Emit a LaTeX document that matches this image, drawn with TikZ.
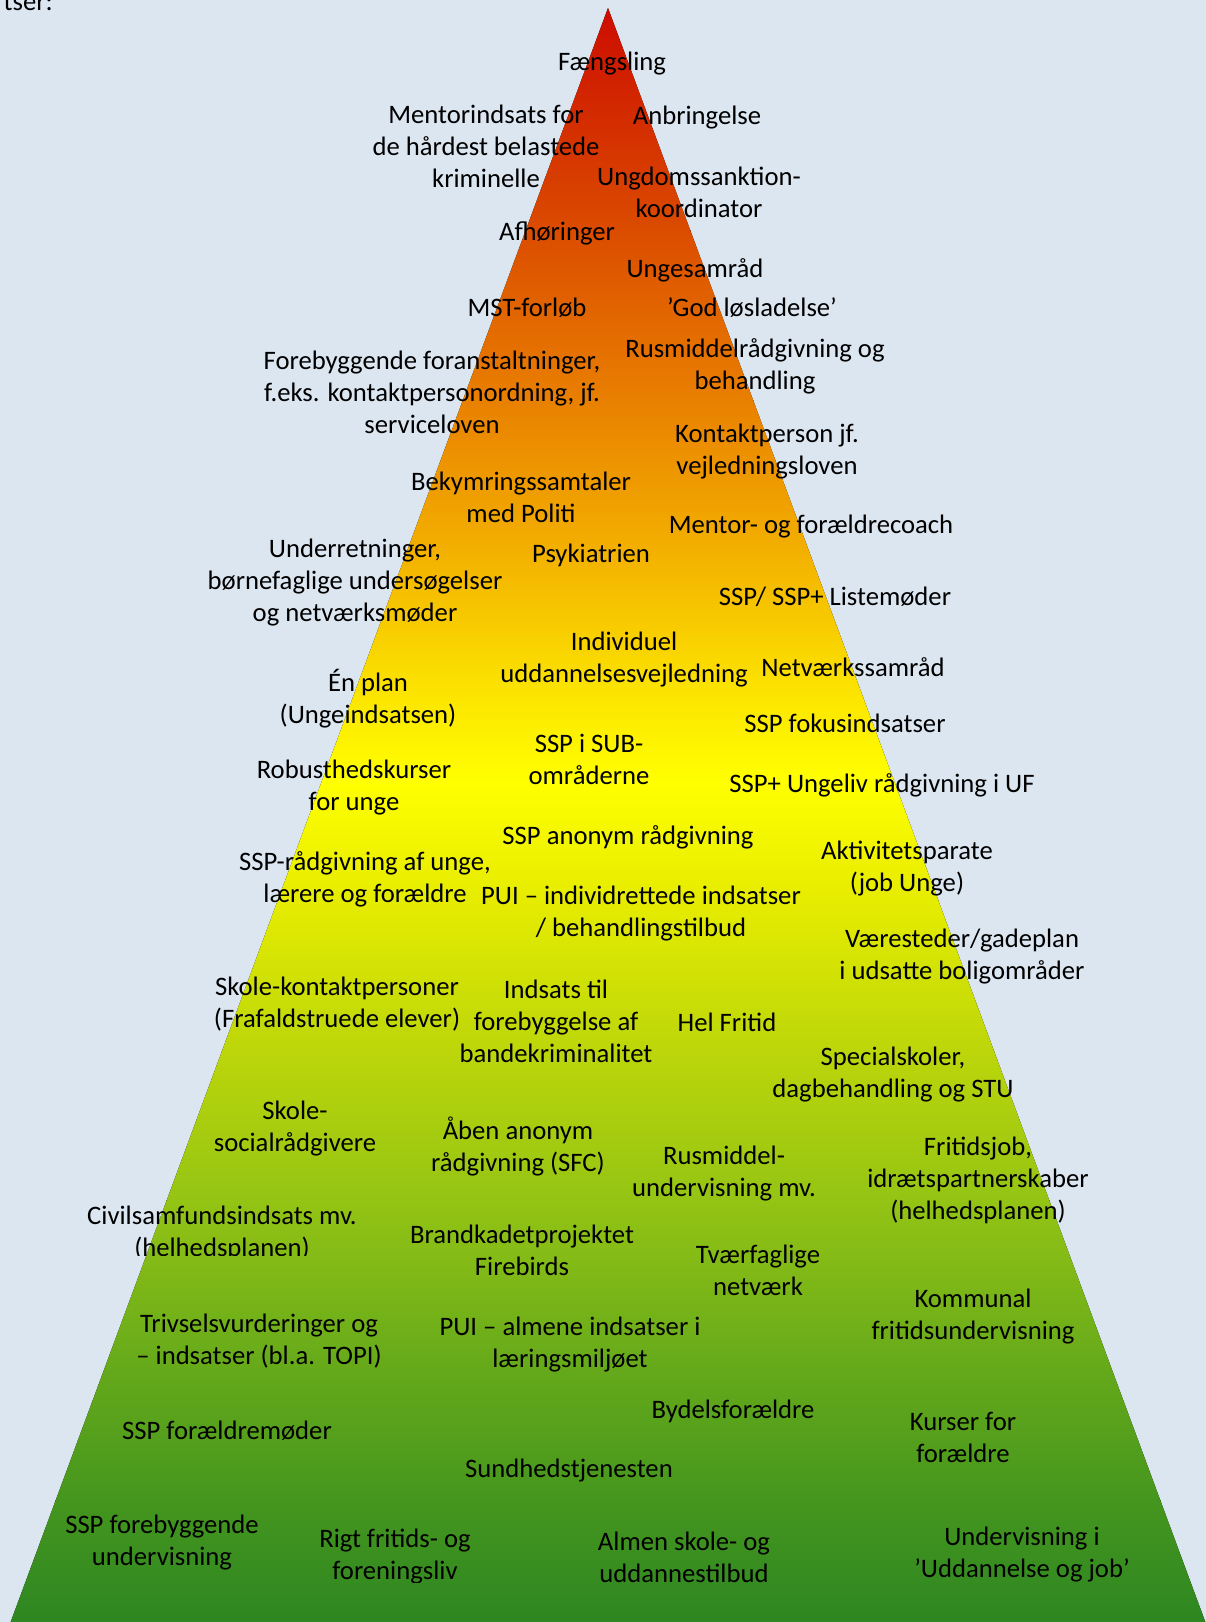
\documentclass[tikz,border=0pt]{standalone}
\usepackage{fontspec}
\setmainfont{Carlito}
\usepackage{xcolor}
\definecolor{backdrop}{HTML}{DCE6F1}
\definecolor{rust}{HTML}{CC0A00}
\definecolor{ember}{HTML}{DB4C00}
\definecolor{tangerine}{HTML}{E98000}
\definecolor{amber}{HTML}{F3B000}
\definecolor{sun}{HTML}{FBE000}
\definecolor{lemon}{HTML}{FFFF00}
\definecolor{lime}{HTML}{E6EC00}
\definecolor{chartreuse}{HTML}{BCD60A}
\definecolor{grass}{HTML}{94C414}
\definecolor{leaf}{HTML}{6AAC1A}
\definecolor{moss}{HTML}{45961E}
\definecolor{forest}{HTML}{2A8422}

\begin{document}
\begin{tikzpicture}[x=.75pt, y=-.75pt,
	lbl/.style={align=center, inner sep=0pt, yshift=-1.5pt, font=\fontsize{20}{24}\selectfont}]
	\useasboundingbox (0,0) rectangle (1206,1622);
	\fill[backdrop] (0,0) rectangle (1206,1622);

	% pyramid
	\coordinate (apex) at (608,8);
	\coordinate (baseL) at (4,1640);
	\coordinate (baseR) at (1212,1640);
	\begin{scope}
		\clip (apex) -- (baseL) -- (baseR) -- cycle;
		\foreach \ya/\yb/\ca/\cb in {0/230/rust/ember, 230/400/ember/tangerine, 400/550/tangerine/amber,
			550/680/amber/sun, 680/780/sun/lemon, 780/900/lemon/lime, 900/1050/lime/chartreuse,
			1050/1200/chartreuse/grass, 1200/1350/grass/leaf, 1350/1500/leaf/moss, 1500/1640/moss/forest}{
			\fill[top color=\ca, bottom color=\cb] (0,\ya) rectangle (1220,\yb+1);
		}
	\end{scope}

	% heading, cut off at the top
	\node[lbl, anchor=base east] (heading) at (53,8) {tser:};

	% top
	\node[lbl] (faeng) at (612,62) {Fængsling};
	\node[lbl] (mentor) at (486,144) {Mentorindsats for\\de hårdest belastede\\kriminelle};
	\node[lbl] (anbr) at (697,116) {Anbringelse};
	\node[lbl] (usank) at (699,190) {Ungdomssanktion-\\koordinator};
	\node[lbl] (afhor) at (557,231) {Afhøringer};
	\node[lbl] (ungesam) at (695,268) {Ungesamråd};
	\node[lbl] (mst) at (527,306) {MST-forløb};
	\node[lbl] (godlos) at (752,306) {’God løsladelse’};
	\node[lbl] (forebyg) at (432,390) {Forebyggende foranstaltninger,\\f.eks. kontaktpersonordning, jf.\\serviceloven};
	\node[lbl] (rusraad) at (755,364) {Rusmiddelrådgivning og\\behandling};
	\node[lbl] (kontakt) at (767,450) {Kontaktperson jf.\\vejledningsloven};
	\node[lbl] (bekym) at (521,495) {Bekymringssamtaler\\med Politi};
	\node[lbl] (coach) at (811,525) {Mentor- og forældrecoach};

	% middle
	\node[lbl] (underret) at (355,581) {Underretninger,\\børnefaglige undersøgelser\\og netværksmøder};
	\node[lbl] (psyk) at (591,553) {Psykiatrien};
	\node[lbl] (ssplist) at (835,595) {SSP/ SSP+ Listemøder};
	\node[lbl] (indiv) at (624,658) {Individuel\\uddannelsesvejledning};
	\node[lbl] (netsam) at (853,665) {Netværkssamråd};
	\node[lbl] (enplan) at (368,697) {Én plan\\(Ungeindsatsen)};
	\node[lbl] (sspfokus) at (845,721) {SSP fokusindsatser};
	\node[lbl] (sspsub) at (589,757) {SSP i SUB-\\områderne};
	\node[lbl] (ungeliv) at (882,783) {SSP+ Ungeliv rådgivning i UF};
	\node[lbl] (robust) at (354,786) {Robusthedskurser\\for unge};
	\node[lbl] (sspanon) at (628,835) {SSP anonym rådgivning};
	\node[lbl] (aktiv) at (907,867) {Aktivitetsparate\\(job Unge)};
	\node[lbl] (sspraad) at (365,877) {SSP-rådgivning af unge,\\lærere og forældre};
	\node[lbl] (puiind) at (641,912) {PUI – individrettede indsatser\\/ behandlingstilbud};
	\node[lbl] (vaere) at (962,955) {Væresteder/gadeplan\\i udsatte boligområder};
	\node[lbl] (skolekon) at (337,1002) {Skole-kontaktpersoner\\(Frafaldstruede elever)};
	\node[lbl] (bande) at (556,1019) {Indsats til\\forebyggelse af\\bandekriminalitet};
	\node[lbl] (helfri) at (727,1020) {Hel Fritid};
	\node[lbl] (special) at (893,1073) {Specialskoler,\\dagbehandling og STU};

	% bottom
	\node[lbl] (skolesoc) at (295,1127) {Skole-\\socialrådgivere};
	\node[lbl] (aaben) at (518,1144) {Åben anonym\\rådgivning (SFC)};
	\node[lbl] (rusund) at (724,1172) {Rusmiddel-\\undervisning mv.};
	\node[lbl] (fritjob) at (978,1178) {Fritidsjob,\\idrætspartnerskaber\\(helhedsplanen)};
	\begin{scope}
		\clip (0,1190) rectangle (470,1255);
		\node[lbl] (civil) at (222,1231) {Civilsamfundsindsats mv.\\(helhedsplanen)};
	\end{scope}
	\node[lbl] (brand) at (522,1248) {Brandkadetprojektet\\Firebirds};
	\node[lbl] (tvaer) at (758,1268) {Tværfaglige\\netværk};
	\node[lbl] (kommunal) at (973,1315) {Kommunal\\fritidsundervisning};
	\node[lbl] (trivsel) at (259,1339) {Trivselsvurderinger og\\– indsatser (bl.a. TOPI)};
	\node[lbl] (puialm) at (570,1343) {PUI – almene indsatser i\\læringsmiljøet};
	\node[lbl] (bydel) at (733,1409) {Bydelsforældre};
	\node[lbl] (sspfor) at (227,1429) {SSP forældremøder};
	\node[lbl] (kurser) at (963,1435) {Kurser for\\forældre};
	\node[lbl] (sundhed) at (569,1469) {Sundhedstjenesten};
	\node[lbl] (sspforeb) at (162,1541) {SSP forebyggende\\undervisning};
	\begin{scope}
		\clip (300,1510) rectangle (500,1582);
		\node[lbl] (rigt) at (395,1555) {Rigt fritids- og\\foreningsliv};
	\end{scope}
	\node[lbl] (almen) at (684,1555) {Almen skole- og\\uddannestilbud};
	\node[lbl] (underv) at (1022,1553) {Undervisning i\\’Uddannelse og job’};
\end{tikzpicture}
\end{document}
